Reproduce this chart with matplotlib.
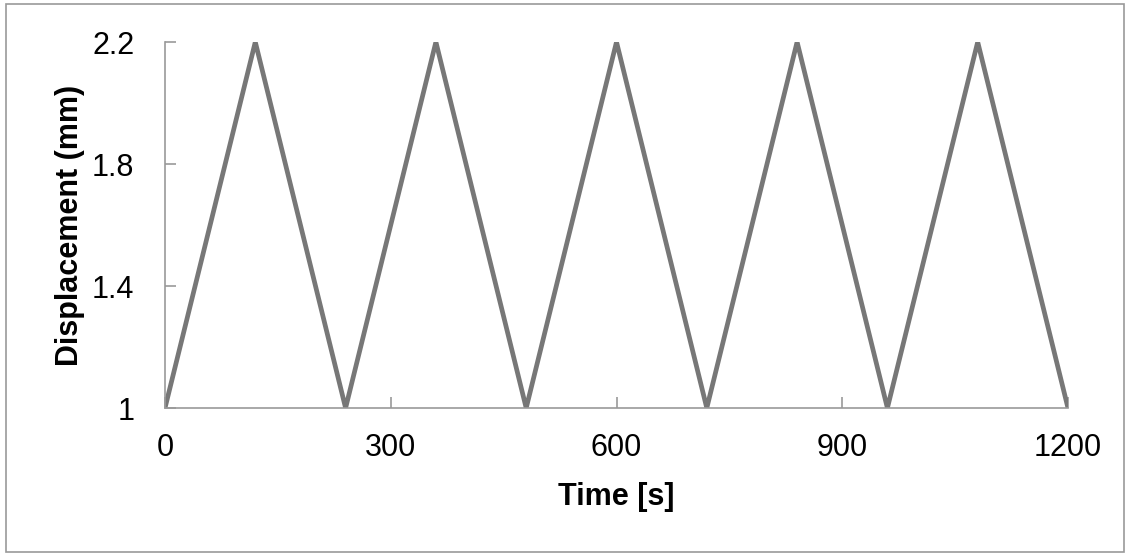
import matplotlib.pyplot as plt
from matplotlib.patches import Rectangle

# Triangular displacement history
time_s = [0, 120, 240, 360, 480, 600, 720, 840, 960, 1080, 1200]
disp_mm = [1, 2.2, 1, 2.2, 1, 2.2, 1, 2.2, 1, 2.2, 1]

x_ticks = [0, 300, 600, 900, 1200]
y_ticks = [1, 1.4, 1.8, 2.2]
y_tick_labels = ["1", "1.4", "1.8", "2.2"]

plt.rcParams['font.family'] = ['Liberation Sans', 'DejaVu Sans']

fig = plt.figure(figsize=(11.29, 5.55), dpi=100)
ax = fig.add_axes([165 / 1129, 1 - 408 / 555, (1068 - 165) / 1129, (408 - 42) / 555])

ax.plot(time_s, disp_mm, color='#777777', linewidth=3.4, solid_joinstyle='miter')

ax.set_xlim(0, 1200)
ax.set_ylim(1, 2.2)
ax.set_xticks(x_ticks)
ax.set_yticks(y_ticks)
ax.set_yticklabels(y_tick_labels)

for side in ['top', 'right']:
    ax.spines[side].set_visible(False)
for side in ['left', 'bottom']:
    ax.spines[side].set_color('#999999')
    ax.spines[side].set_linewidth(1.2)

ax.tick_params(direction='in', length=8, width=1.2, color='#999999',
               labelsize=22, labelcolor='black')
ax.tick_params(axis='x', pad=18)
ax.tick_params(axis='y', pad=22)

ax.set_xlabel("Time [s]", fontsize=22, fontweight='bold', labelpad=14)
ax.set_ylabel("Displacement (mm)", fontsize=22, fontweight='bold', labelpad=5)

# Outer chart border
fig.patches.append(Rectangle((6 / 1129, 3 / 555), 1118 / 1129, 548 / 555,
                             transform=fig.transFigure, fill=False,
                             edgecolor='#999999', linewidth=1.2))

fig.savefig("out.png", dpi=100)
